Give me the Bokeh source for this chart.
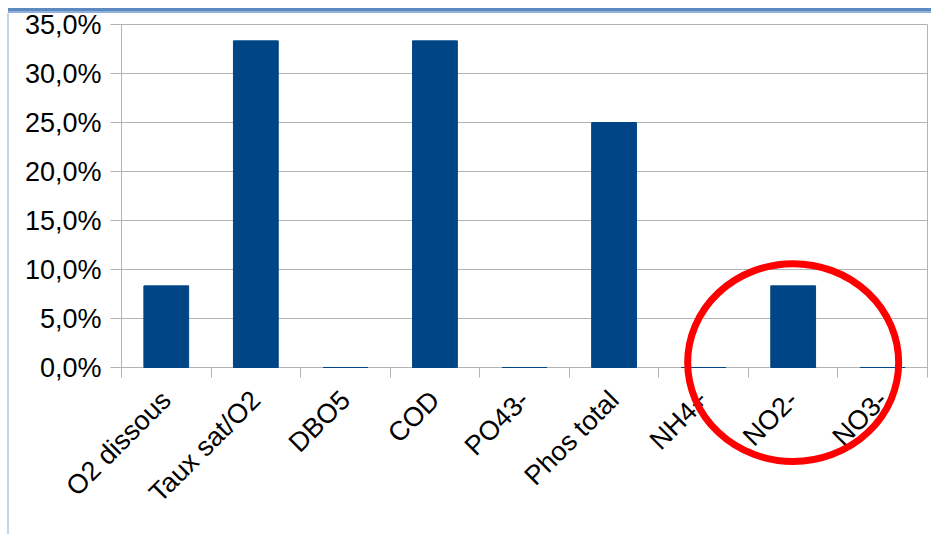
import math
from bokeh.plotting import figure
from bokeh.models import Range1d, FixedTicker
from bokeh.embed import file_html
from bokeh.resources import INLINE

# Share of samples out of range, per parameter (in %)
categories = ["O2 dissous", "Taux sat/O2", "DBO5", "COD", "PO43-",
              "Phos total", "NH4+", "NO2-", "NO3-"]
shares = [8.33, 33.33, 0.0, 33.33, 0.0, 25.0, 0.0, 8.33, 0.0]
y_ticks = [0, 5, 10, 15, 20, 25, 30, 35]
highlighted = "NO2-"

BAR_BLUE = "#004586"
GRID = "#b3b3b3"
FONT = "Liberation Sans"
FONT_SIZE = "27px"

n = len(categories)
centers = [i + 0.5 for i in range(n)]
bounds = [float(i) for i in range(n + 1)]

p = figure(width=931, height=534, output_backend="svg", toolbar_location=None,
           x_range=Range1d(0, n), y_range=Range1d(0, 35),
           min_border_left=121, min_border_right=4,
           min_border_top=24, min_border_bottom=167)
p.background_fill_color = "white"
p.border_fill_alpha = 0
p.outline_line_color = GRID
p.outline_line_width = 1

# page frame behind the chart: blue rule on top, pale rule on the left
p.styles = {
    "background-color": "white",
    "background-image": ("linear-gradient(#5b89c0, #5b89c0), "
                         "linear-gradient(#8fb1da, #8fb1da), "
                         "linear-gradient(#c5d5e8, #c5d5e8)"),
    "background-size": "923px 3px, 923px 2px, 2px 521px",
    "background-position": "8px 8px, 8px 11px, 7px 13px",
    "background-repeat": "no-repeat",
}

bars = p.vbar(x=centers, top=shares, width=0.5, bottom=0,
              fill_color=BAR_BLUE, line_color=BAR_BLUE, line_width=1)
bars.level = "overlay"

# x axis: labels at category centres, ticks at category boundaries
xa = p.xaxis[0]
xa.ticker = FixedTicker(ticks=centers, minor_ticks=bounds)
xa.major_label_overrides = {c: lab for c, lab in zip(centers, categories)}
xa.major_label_orientation = math.pi / 4
xa.major_label_text_font = FONT
xa.major_label_text_font_size = FONT_SIZE
xa.major_label_text_color = "black"
xa.major_label_standoff = 18
xa.major_tick_out = 0
xa.major_tick_in = 0
xa.minor_tick_out = 10
xa.minor_tick_in = 0
xa.minor_tick_line_color = GRID
xa.axis_line_color = GRID

# y axis in percent with comma decimals
ya = p.yaxis[0]
ya.ticker = FixedTicker(ticks=y_ticks)
ya.major_label_overrides = {t: f"{t},0%" for t in y_ticks}
ya.major_label_text_font = FONT
ya.major_label_text_font_size = FONT_SIZE
ya.major_label_text_color = "black"
ya.major_label_standoff = 9
ya.major_tick_out = 11
ya.major_tick_in = 0
ya.major_tick_line_color = GRID
ya.minor_tick_line_color = None
ya.axis_line_color = GRID

p.xgrid.grid_line_color = None
p.ygrid.ticker = FixedTicker(ticks=y_ticks)
p.ygrid.grid_line_color = GRID
p.ygrid.grid_line_width = 1

# red ring around the highlighted category
hx = categories.index(highlighted) + 0.5
ring = p.ellipse(x=[hx], y=[0.5], width=211, height=198,
                 width_units="screen", height_units="screen",
                 fill_alpha=0, line_color="#ff0000", line_width=7)
ring.level = "overlay"

open("out.html", "w").write(file_html(p, INLINE))
